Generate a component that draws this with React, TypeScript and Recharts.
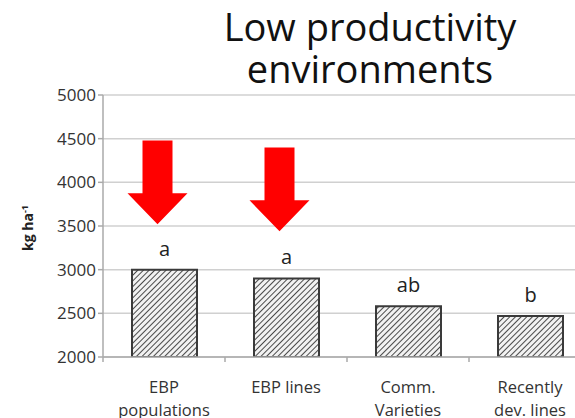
import { BarChart, Bar, XAxis, YAxis, CartesianGrid, LabelList } from "recharts";

const categories = [["EBP", "populations"], ["EBP lines"], ["Comm.", "Varieties"], ["Recently", "dev. lines"]];
const yieldValues = [3000, 2900, 2580, 2470];
const groupLetters = ["a", "a", "ab", "b"];
const arrowTop = [4480, 4400, null, null];
const arrowTip = [3520, 3440, null, null];
const yTicks = [2000, 2500, 3000, 3500, 4000, 4500, 5000];

const data = categories.map((lines, i) => ({
  name: lines.join(" "),
  lines,
  value: yieldValues[i],
  letter: groupLetters[i],
  arrow: arrowTop[i] == null ? null : [arrowTip[i], arrowTop[i]],
}));

const FONT = "'Open Sans', sans-serif";

function ArrowShape(props: any) {
  const { x, y, width, height } = props;
  if (height == null || !isFinite(height) || height <= 0) return null;
  const cx = x + width / 2 - 7;
  const head = 31;
  const shaft = 15;
  const half = 30;
  const pts = [
    [cx - shaft, y],
    [cx + shaft, y],
    [cx + shaft, y + height - head],
    [cx + half, y + height - head],
    [cx, y + height],
    [cx - half, y + height - head],
    [cx - shaft, y + height - head],
  ].map((p) => p.join(",")).join(" ");
  return <polygon points={pts} fill="#ff0000" />;
}

function CategoryTick(props: any) {
  const { x, y, payload, index } = props;
  const lines = categories[index] || [payload.value];
  const half = payload.offset || 61;
  return (
    <g>
      <line x1={x - half} y1={y - 8} x2={x - half} y2={y - 3} stroke="#aaa" strokeWidth={1.5} />
      {lines.map((l, i) => (
        <text key={i} x={x} y={y + 28 + i * 23} textAnchor="middle" fontSize={16.5} fill="#333" fontFamily={FONT}>
          {l}
        </text>
      ))}
    </g>
  );
}

function YLabel() {
  return (
    <text x={33} y={228} transform="rotate(-90 33 228)" textAnchor="middle" fontSize={14} fontWeight="bold" fill="#222" fontFamily={FONT}>
      kg ha<tspan dy={-5} fontSize={9}>-1</tspan>
    </text>
  );
}

export default function App() {
  return (
    <div style={{ position: "absolute", left: 0, top: 0, width: 575, height: 418, overflow: "hidden", background: "#fff" }}>
      <div style={{ position: "absolute", left: 170, top: 5, width: 400, textAlign: "center", fontFamily: FONT, fontSize: 38, lineHeight: "42px", color: "#111" }}>
        <div>Low productivity</div>
        <div>environments</div>
      </div>
      <BarChart
        width={600}
        height={418}
        data={data}
        margin={{ top: 95, right: 9, left: 43, bottom: 0 }}
        barSize={65}
        barGap={-65}
        style={{ position: "absolute", left: 0, top: 0 }}
      >
        <defs>
          <pattern id="hatch" width={4} height={4} patternUnits="userSpaceOnUse" patternTransform="rotate(45)">
            <rect width={4} height={4} fill="#f2f2f2" />
            <line x1={0} y1={0} x2={0} y2={4} stroke="#4a4a4a" strokeWidth={2} />
          </pattern>
        </defs>
        <CartesianGrid vertical={false} stroke="#d0d0d0" strokeWidth={1.5} />
        <XAxis
          dataKey="name"
          tick={<CategoryTick />}
          tickLine={false}
          axisLine={{ stroke: "#aaa", strokeWidth: 1.5 }}
          interval={0}
          height={61}
        />
        <YAxis
          domain={[2000, 5000]}
          ticks={yTicks}
          allowDataOverflow
          width={60}
          axisLine={{ stroke: "#aaa", strokeWidth: 1.5 }}
          tickLine={{ stroke: "#aaa", strokeWidth: 1.5 }}
          tickSize={5}
          tick={{ fontSize: 17, fill: "#333", fontFamily: FONT }}
          label={<YLabel />}
        />
        <Bar dataKey="value" fill="url(#hatch)" stroke="#3a3a3a" strokeWidth={2} isAnimationActive={false}>
          <LabelList dataKey="letter" position="top" offset={14} fontSize={20} fill="#222" fontFamily={FONT} />
        </Bar>
        <Bar dataKey="arrow" shape={<ArrowShape />} isAnimationActive={false} />
      </BarChart>
    </div>
  );
}
